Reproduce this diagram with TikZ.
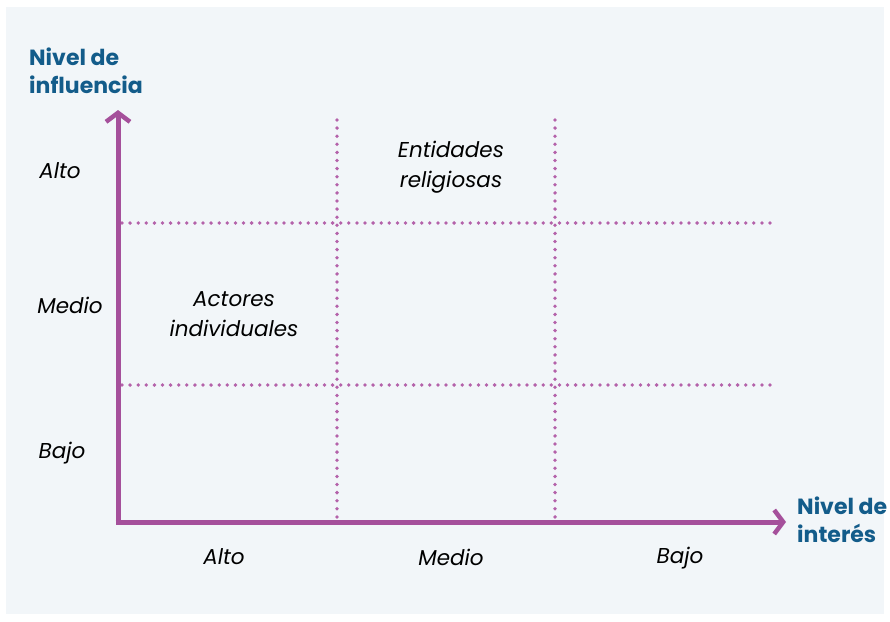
\documentclass[tikz,border=0pt]{standalone}
\usepackage{fontspec}
\setmainfont{Poppins}
\usetikzlibrary{arrows.meta}
\definecolor{bgc}{HTML}{F2F6F9}
\definecolor{axc}{HTML}{A5509B}
\definecolor{dotc}{HTML}{B462AA}
\definecolor{ttl}{HTML}{135C8A}
\begin{document}
\begin{tikzpicture}[x=1pt,y=-1pt,
  axis/.style={draw=axc,line width=5pt,-{Straight Barb[length=9pt,width=24pt,line width=4.5pt]}},
  grid/.style={draw=dotc,line width=3.8pt,line cap=round,dash pattern=on 0pt off 8.1pt},
  lab/.style={font=\itshape\fontsize{21.5}{29.5}\selectfont,text=black,inner sep=0pt},
  title/.style={font=\bfseries\fontsize{22}{28}\selectfont,text=ttl,align=left,inner sep=0pt,anchor=north west}]
\useasboundingbox (0,0) rectangle (890,621);
\fill[bgc] (6,7) rectangle (884,614);
\coordinate (o) at (118,522);
\coordinate (ytip) at (118,110);
\coordinate (xtip) at (786,522);
\coordinate (v1a) at (337,120);
\coordinate (v1b) at (337,522);
\coordinate (v2a) at (555,120);
\coordinate (v2b) at (555,522);
\coordinate (h1a) at (122,223);
\coordinate (h1b) at (778,223);
\coordinate (h2a) at (122,385);
\coordinate (h2b) at (778,385);
\draw[grid] (v1a) -- (v1b);
\draw[grid] (v2a) -- (v2b);
\draw[grid] (h1a) -- (h1b);
\draw[grid] (h2a) -- (h2b);
\draw[axis] (o) -- (ytip);
\draw[axis] ([xshift=-2.5pt]o) -- (xtip);
\node[title] (ty) at (29,48) {Nivel de\\influencia};
\node[title] (tx) at (797,497) {Nivel de\\interés};
\node[lab] (la) at (60,171) {Alto};
\node[lab] (lm) at (70,305) {Medio};
\node[lab] (lb) at (62,453) {Bajo};
\node[lab] (ba) at (224,557) {Alto};
\node[lab] (bm) at (451,557) {Medio};
\node[lab] (bb) at (680,558) {Bajo};
\node[lab,align=center] (ent) at (451,167) {Entidades\\religiosas};
\node[lab,align=center] (act) at (234,314) {Actores\\individuales};
\end{tikzpicture}
\end{document}
